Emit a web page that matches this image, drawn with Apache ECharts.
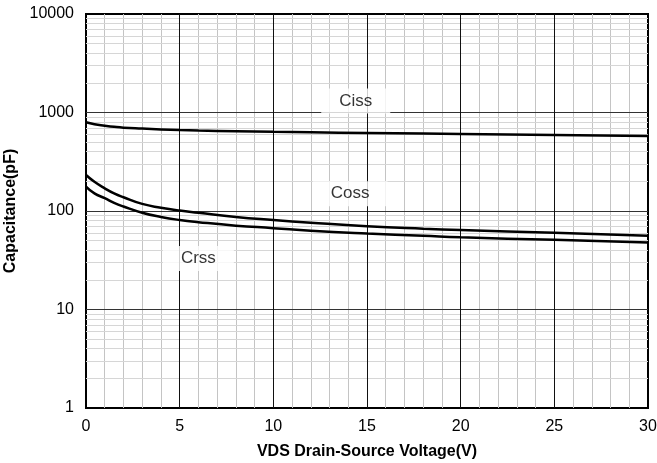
<!DOCTYPE html>
<html><head><meta charset="utf-8">
<script src="https://cdn.jsdelivr.net/npm/echarts@6/dist/echarts.min.js"></script>
<style>html,body{margin:0;padding:0;background:#fff}#c{width:657px;height:463px}</style>
</head><body><div id="c"></div>
<script>
const vds  = [0, 0.45, 1, 1.5, 2, 3, 4, 5, 6, 8, 10, 12, 15, 18, 20, 25, 30];
const ciss = [795, 759, 734, 715, 701, 686, 673, 663, 656, 645, 636, 629, 620, 612, 606, 592, 577];
const coss = [232, 198, 170, 151, 138, 118, 108, 101, 96, 87, 81, 76, 70, 66, 64, 60, 56];
const crss = [177, 151, 135, 121, 111, 96, 87, 81, 77, 71, 67, 63, 59, 56, 54, 51, 48];
const xTicks = [0, 5, 10, 15, 20, 25, 30];
const yDecades = [1, 10, 100, 1000, 10000];
const seriesLabels = [
  {name: 'Ciss', x: 14.4, y: 1310},
  {name: 'Coss', x: 14.1, y: 150},
  {name: 'Crss', x: 6.0, y: 33}
];

const font = 'Arial, "Liberation Sans", sans-serif';
const minorX = [], majorX = [], minorY = [], majorY = [];
for (let v = 1; v < 30; v++) { if (v % 5) minorX.push({xAxis: v}); }
xTicks.slice(1, -1).forEach(v => majorX.push({xAxis: v}));
for (let d = 0; d < yDecades.length - 1; d++) {
  for (let k = 2; k <= 9; k++) minorY.push({yAxis: yDecades[d] * k});
}
yDecades.slice(1, -1).forEach(v => majorY.push({yAxis: v}));
const gridLines = [
  ...minorX.map(d => Object.assign({lineStyle: {color: '#c4c4c4', width: 1, type: 'solid'}}, d)),
  ...minorY.map(d => Object.assign({lineStyle: {color: '#d6d6d6', width: 1, type: 'solid'}}, d)),
  ...majorY.map(d => Object.assign({lineStyle: {color: '#333', width: 1, type: 'solid'}}, d)),
  ...majorX.map(d => Object.assign({lineStyle: {color: '#111', width: 1, type: 'solid'}}, d))
];

function curve(name, vals) {
  return {
    name, type: 'line', smooth: 0.5, symbol: 'none', z: 3,
    data: vds.map((x, i) => [x, vals[i]]),
    lineStyle: {color: '#000', width: 2.5}
  };
}

const chart = echarts.init(document.getElementById('c'), null, {renderer: 'canvas'});
chart.setOption({
  animation: false,
  grid: {left: 86, right: 9, top: 14, bottom: 55, containLabel: false, outerBoundsMode: 'none',
         show: true, borderColor: '#000', borderWidth: 2, backgroundColor: 'transparent'},
  xAxis: {
    type: 'value', min: 0, max: 30, interval: 5,
    name: 'VDS Drain-Source Voltage(V)', nameLocation: 'middle', nameGap: 36,
    nameTextStyle: {fontFamily: font, fontWeight: 'bold', fontSize: 16, color: '#000'},
    axisLine: {show: true, lineStyle: {color: '#000', width: 2}},
    axisTick: {show: false}, splitLine: {show: false},
    axisLabel: {fontFamily: font, fontSize: 16, color: '#000', margin: 11}
  },
  yAxis: {
    type: 'log', logBase: 10, min: 1, max: 10000, splitNumber: 4,
    name: 'Capacitance(pF)', nameLocation: 'middle', nameGap: 4,
    nameTextStyle: {fontFamily: font, fontWeight: 'bold', fontSize: 16, color: '#000'},
    axisLine: {show: true, lineStyle: {color: '#000', width: 2}},
    axisTick: {show: false}, splitLine: {show: false}, minorTick: {show: false},
    axisLabel: {fontFamily: font, fontSize: 16, color: '#000', margin: 12, formatter: v => String(Math.round(v))}
  },
  series: [
    {
      type: 'line', data: [], z: 1, silent: true,
      markLine: {z: 1, silent: true, symbol: 'none', label: {show: false}, animation: false, data: gridLines}
    },
    {
      type: 'scatter', z: 6, symbolSize: 1, itemStyle: {color: 'rgba(0,0,0,0)'}, silent: true,
      data: seriesLabels.map(l => ({value: [l.x, l.y], name: l.name})),
      label: {
        show: true, position: 'inside', formatter: p => p.name,
        fontFamily: font, fontSize: 17, color: '#000',
        backgroundColor: '#fff', padding: [4, 18]
      },
      labelLayout: {hideOverlap: false}
    },
    curve('Ciss', ciss), curve('Coss', coss), curve('Crss', crss)
  ]
});
</script></body></html>
